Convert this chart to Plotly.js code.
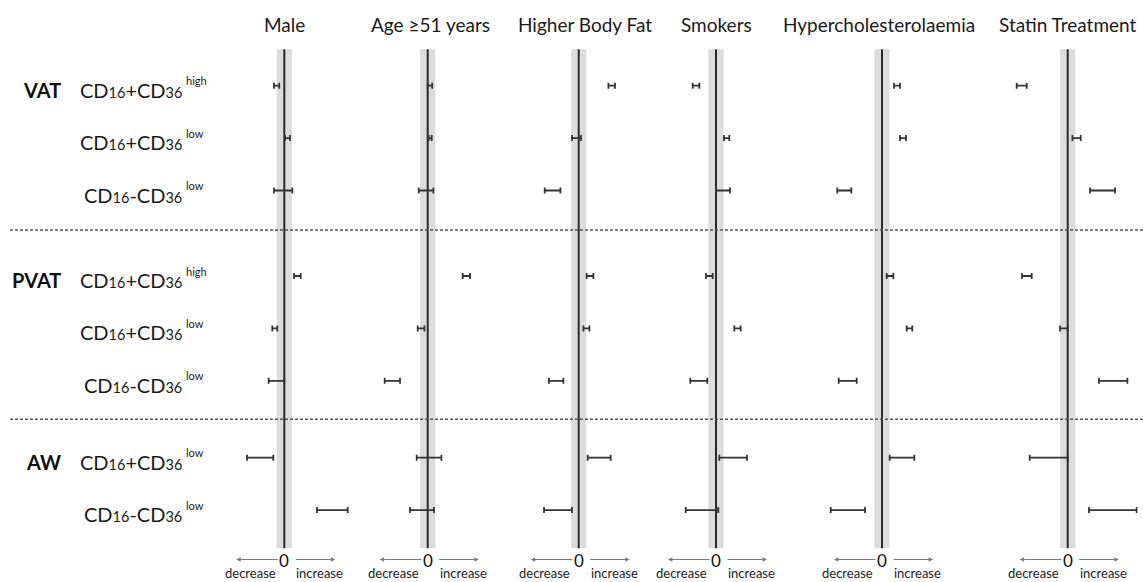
<!DOCTYPE html>
<html>
<head>
<meta charset="utf-8">
<script src="https://cdn.plot.ly/plotly-3.0.1.min.js"></script>
<style>html,body{margin:0;padding:0;background:#fff;}#chart{width:1143px;height:582px;}</style>
</head>
<body>
<div id="chart"></div>
<script>
// ---- data ----
const panels = ['Male', 'Age \u226551 years', 'Higher Body Fat', 'Smokers', 'Hypercholesterolaemia', 'Statin Treatment'];
const tissues = ['VAT', 'PVAT', 'AW'];
const rowTissue = [0, 0, 0, 1, 1, 1, 2, 2];
const rowSubset = ['CD16+CD36', 'CD16+CD36', 'CD16-CD36', 'CD16+CD36', 'CD16+CD36', 'CD16-CD36', 'CD16+CD36', 'CD16-CD36'];
const rowLevel = ['high', 'low', 'low', 'high', 'low', 'low', 'low', 'low'];

const maleLow   = [-1.03, 0.07, -1.03, 0.97, -1.20, -1.56, -3.73, 3.27];
const maleHigh  = [-0.50, 0.57, 0.80, 1.64, -0.70, 0.00, -1.10, 6.34];
const ageLow    = [0.00, 0.10, -0.90, 3.50, -1.00, -4.30, -1.10, -1.77];
const ageHigh   = [0.45, 0.40, 0.57, 4.23, -0.33, -2.77, 1.37, 0.63];
const fatLow    = [2.97, -0.67, -3.40, 0.80, 0.47, -2.97, 0.90, -3.47];
const fatHigh   = [3.63, 0.23, -1.83, 1.47, 1.07, -1.53, 3.20, -0.67];
const smokeLow  = [-2.33, 0.80, 0.00, -1.00, 1.83, -2.57, 0.33, -3.03];
const smokeHigh = [-1.67, 1.33, 1.40, -0.33, 2.47, -0.87, 3.10, 0.23];
const cholLow   = [1.20, 1.80, -4.47, 0.47, 2.47, -4.33, 0.77, -5.13];
const cholHigh  = [1.80, 2.40, -3.07, 1.13, 3.03, -2.53, 3.23, -1.70];
const statLow   = [-5.10, 0.47, 2.23, -4.57, -0.77, 3.13, -3.80, 2.13];
const statHigh  = [-4.10, 1.30, 4.73, -3.60, 0.00, 5.97, 0.00, 6.90];

const lows  = [maleLow, ageLow, fatLow, smokeLow, cholLow, statLow];
const highs = [maleHigh, ageHigh, fatHigh, smokeHigh, cholHigh, statHigh];

// ---- layout helpers ----
const W = 1143, H = 582;
const FONT = 'Lato, "Open Sans", sans-serif';
const centersPx = [284.3, 427.7, 578.7, 716, 882, 1067.7];
const titleShift = [0, 3, 6, 0, -3, 0];
const halfRange = [6.8, 6.8, 6.8, 6.8, 6.8, 7.0];
const pxPerUnit = 10;
const groupGap = [0, 0.632, 1.099];
const rowPos = rowTissue.map((g, i) => i + groupGap[g]);
const rowPx = 52.4, firstRowPx = 85.7;
const yTop = -firstRowPx / rowPx, yBot = (H - firstRowPx) / rowPx;
const py = p => 1 - p / H;

const traces = [];
const layout = {
  width: W, height: H,
  margin: {l: 0, r: 0, t: 0, b: 0, pad: 0},
  paper_bgcolor: '#ffffff', plot_bgcolor: 'rgba(0,0,0,0)',
  showlegend: false,
  font: {family: FONT, color: '#1a1a1a'},
  yaxis: {domain: [0, 1], range: [yBot, yTop], visible: false, fixedrange: true},
  shapes: [], annotations: []
};

panels.forEach((name, k) => {
  const ax = k === 0 ? 'x' : 'x' + (k + 1);
  const axKey = k === 0 ? 'xaxis' : 'xaxis' + (k + 1);
  const R = halfRange[k];
  const c = centersPx[k];
  layout[axKey] = {
    domain: [(c - R * pxPerUnit) / W, (c + R * pxPerUnit) / W],
    range: [-R, R], visible: false, fixedrange: true, anchor: 'y'
  };
  const lo = lows[k], hi = highs[k];
  const mid = lo.map((v, i) => (v + hi[i]) / 2);
  traces.push({
    type: 'scatter', mode: 'markers', xaxis: ax, yaxis: 'y',
    x: mid, y: rowPos,
    marker: {size: 1, opacity: 0},
    error_x: {
      type: 'data', symmetric: false,
      array: hi.map((v, i) => v - mid[i]),
      arrayminus: lo.map((v, i) => mid[i] - v),
      color: '#333333', thickness: 1.8, width: 3
    },
    hoverinfo: 'skip'
  });
  // grey band & zero line
  layout.shapes.push({type: 'rect', xref: ax, yref: 'paper', x0: -0.76, x1: 0.76,
    y0: py(548.3), y1: py(49.3), fillcolor: '#dcdcdc', line: {width: 0}, layer: 'below'});
  layout.shapes.push({type: 'line', xref: ax, yref: 'paper', x0: 0, x1: 0,
    y0: py(548.3), y1: py(49.3), line: {color: '#2b2b2b', width: 2}, layer: 'below'});
  // title
  layout.annotations.push({xref: ax, yref: 'paper', x: 0, y: py(25), xanchor: 'center', yanchor: 'middle',
    xshift: titleShift[k], text: name, showarrow: false, font: {size: 19, family: FONT, color: '#1a1a1a'}});
  // zero label and arrows
  layout.annotations.push({xref: ax, yref: 'paper', x: 0, y: py(560), xanchor: 'center', yanchor: 'middle',
    text: '0', showarrow: false, font: {size: 17, family: FONT, color: '#111'}});
  layout.annotations.push({xref: ax, yref: 'paper', x: -3.43, y: py(573), xanchor: 'center', yanchor: 'middle',
    text: 'decrease', showarrow: false, font: {size: 13, family: FONT, color: '#222'}});
  layout.annotations.push({xref: ax, yref: 'paper', x: 3.53, y: py(573), xanchor: 'center', yanchor: 'middle',
    text: 'increase', showarrow: false, font: {size: 13, family: FONT, color: '#222'}});
  layout.annotations.push({xref: ax, yref: 'paper', x: -4.8, y: py(559.5), ax: 43, ay: 0,
    text: '', showarrow: true, arrowhead: 2, arrowsize: 0.8, arrowwidth: 1.1, arrowcolor: '#7a7a7a'});
  layout.annotations.push({xref: ax, yref: 'paper', x: 5.1, y: py(559.5), ax: -41, ay: 0,
    text: '', showarrow: true, arrowhead: 2, arrowsize: 0.8, arrowwidth: 1.1, arrowcolor: '#7a7a7a'});
});

// dashed separators
[230, 419.3].forEach(p => {
  layout.shapes.push({type: 'line', xref: 'paper', yref: 'paper', x0: 10 / W, x1: 1, y0: py(p), y1: py(p),
    line: {color: '#555555', width: 1.5, dash: '3px,2px'}});
});

// row labels
const digit = s => s.replace(/(\d+)/g, '<span style="font-size:14.5px">$1</span>');
rowPos.forEach((y, i) => {
  layout.annotations.push({xref: 'paper', yref: 'y', x: 183.5 / W, y: y, xanchor: 'right', yanchor: 'middle',
    yshift: -4, text: digit(rowSubset[i]), showarrow: false, font: {size: 20, family: FONT, color: '#1a1a1a'}});
  layout.annotations.push({xref: 'paper', yref: 'y', x: 184 / W, y: y, xanchor: 'left', yanchor: 'middle',
    yshift: 5, text: rowLevel[i], showarrow: false, font: {size: 11, family: FONT, color: '#1a1a1a'}});
});
tissues.forEach((t, g) => {
  const i = rowTissue.indexOf(g);
  layout.annotations.push({xref: 'paper', yref: 'y', x: 62.5 / W, y: rowPos[i], xanchor: 'right', yanchor: 'middle',
    yshift: -4, text: '<b>' + t + '</b>', showarrow: false, font: {size: 20, family: FONT, color: '#111'}});
});

Plotly.newPlot('chart', traces, layout, {staticPlot: true, displayModeBar: false});
</script>
</body>
</html>
